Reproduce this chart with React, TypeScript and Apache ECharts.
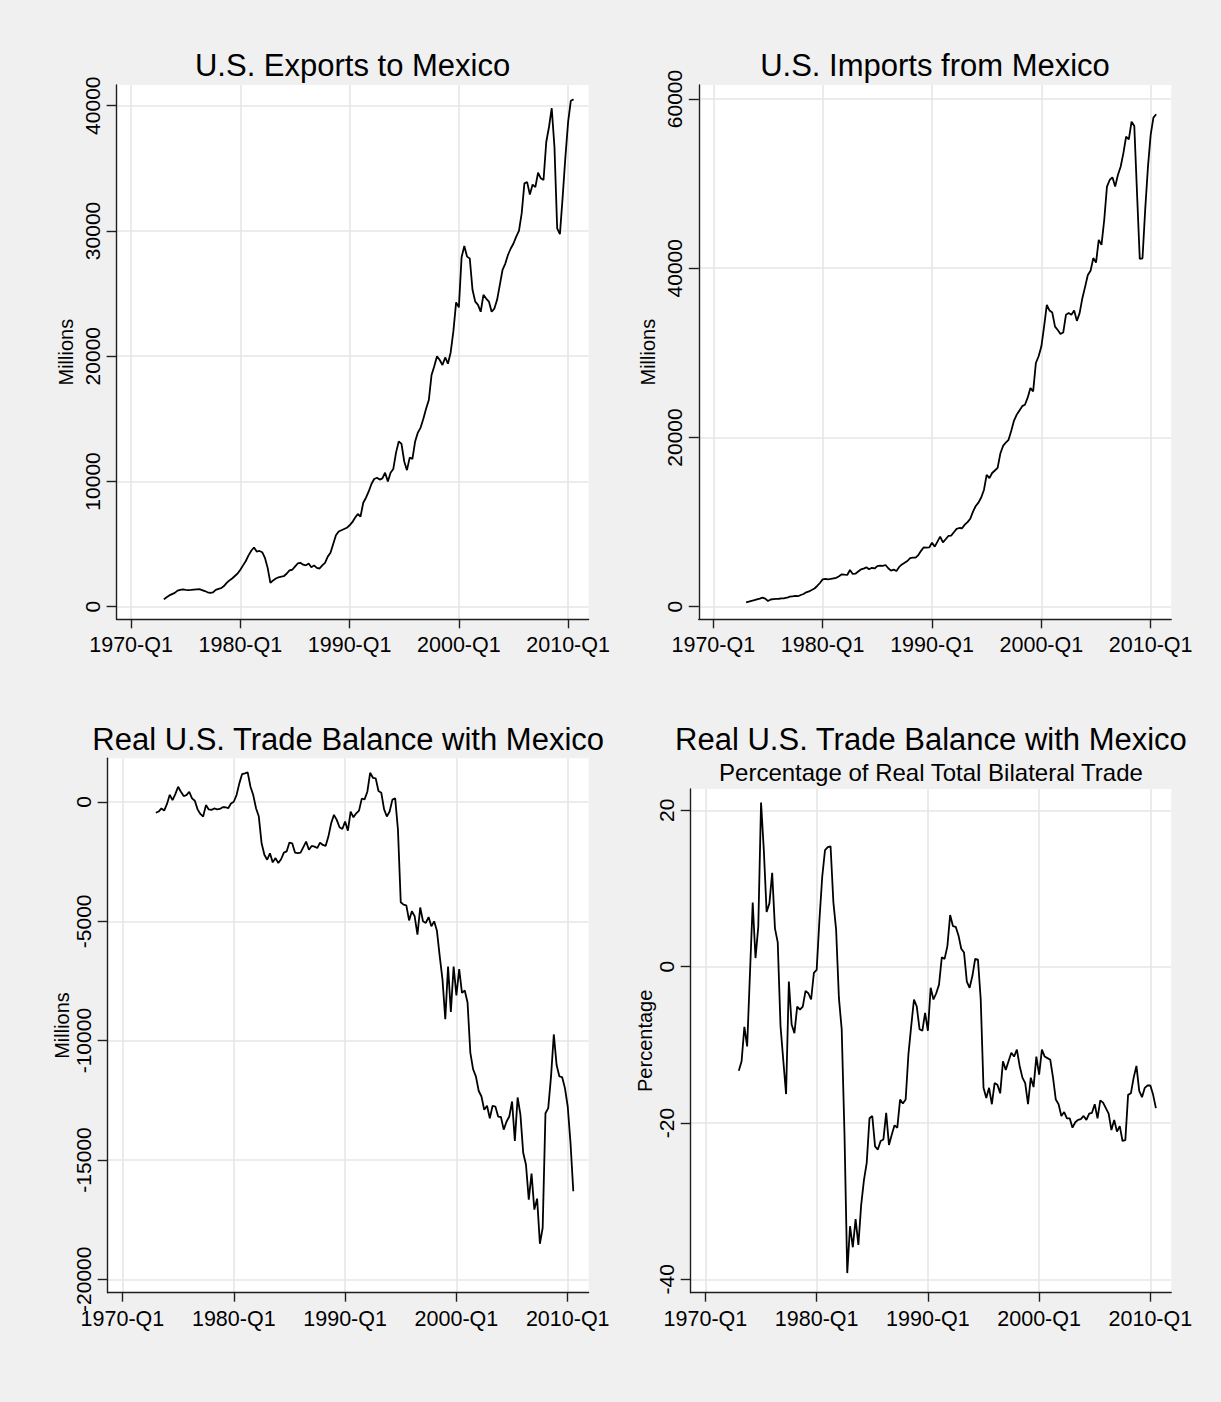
import React, { useEffect, useRef } from "react";
import * as echarts from "echarts";

// Quarterly data, 1973-Q1 .. 2010-Q3 (151 quarters). x = quarters since 1960-Q1.
const FIRST_Q = 52;

const EXPORTS = [
  585, 750, 900, 1000,
  1100, 1280, 1350, 1380,
  1350, 1330, 1340, 1360,
  1380, 1400, 1330, 1250,
  1150, 1100, 1150, 1350,
  1420, 1480, 1650, 1900,
  2100, 2250, 2450, 2650,
  2950, 3300, 3650, 4100,
  4470, 4730, 4400, 4450,
  4350, 3900, 3100, 1900,
  2100, 2250, 2350, 2400,
  2450, 2650, 2900, 2950,
  3200, 3450, 3500, 3350,
  3300, 3450, 3150, 3300,
  3100, 3050, 3300, 3500,
  4000, 4300, 5000, 5700,
  6000, 6100, 6200, 6300,
  6500, 6750, 7100, 7400,
  7200, 8300, 8700, 9200,
  9800, 10200, 10300, 10150,
  10250, 10700, 10000, 10700,
  11000, 12300, 13200, 13000,
  11600, 10900, 11900, 11800,
  13200, 13900, 14300, 15000,
  15800, 16500, 18500, 19200,
  20000, 19700, 19300, 19900,
  19400, 20300, 22000, 24300,
  23900, 27900, 28800, 27950,
  27800, 25300, 24360, 24100,
  23550, 24900, 24600, 24360,
  23550, 23800, 24500, 25700,
  26900, 27400, 28100, 28600,
  29000, 29550, 30000, 31400,
  33800, 33900, 32900, 33700,
  33500, 34650, 34200, 34070,
  37100, 38300, 39800, 36700,
  30200, 29750, 32700, 35900,
  38700, 40400, 40500,
];

const IMPORTS = [
  513, 600, 700, 780,
  870, 960, 1080, 950,
  680, 850, 900, 920,
  940, 980, 1000, 1060,
  1180, 1230, 1280, 1240,
  1380, 1500, 1700, 1800,
  1970, 2150, 2450, 2800,
  3230, 3300, 3230, 3280,
  3350, 3420, 3600, 3830,
  3780, 3750, 4340, 3870,
  3900, 4150, 4400, 4500,
  4650, 4420, 4600, 4520,
  4800, 4850, 4820, 4930,
  4540, 4260, 4380, 4220,
  4700, 5000, 5200, 5400,
  5750, 5800, 5800, 6100,
  6600, 7020, 6980, 7000,
  7570, 7100, 7690, 8280,
  7610, 7970, 8360, 8400,
  8800, 9190, 9300, 9270,
  9700, 10000, 10400, 11240,
  11900, 12300, 12900, 13800,
  15580, 15190, 15800, 16100,
  16400, 18100, 19000, 19400,
  19720, 20800, 22000, 22700,
  23200, 23700, 23870, 24700,
  25840, 25450, 28800, 29600,
  30750, 33100, 35670, 35000,
  34760, 33100, 32700, 32240,
  32400, 34500, 34700, 34500,
  35000, 33780, 34700, 36460,
  37800, 39200, 39700, 41200,
  40670, 43350, 42760, 45700,
  49650, 50430, 50750, 49650,
  51020, 52000, 53580, 55550,
  55240, 57320, 56810, 48860,
  41100, 41180, 47000, 52000,
  55800, 57800, 58200,
];

const BALANCE = [
  -450, -400, -270, -360,
  -80, 300, 80, 330,
  640, 430, 250, 290,
  430, 150, 50, -310,
  -500, -610, -130, -310,
  -330, -270, -310, -290,
  -220, -220, -260, -60,
  10, 290, 780, 1170,
  1200, 1240, 640, 290,
  -260, -610, -1730, -2210,
  -2420, -2150, -2530, -2350,
  -2560, -2400, -2120, -2070,
  -1700, -1730, -2120, -2140,
  -2120, -1890, -1660, -2000,
  -1840, -1870, -1930, -1700,
  -1800, -1840, -1450, -890,
  -540, -750, -1060, -1130,
  -820, -1200, -400, -640,
  -475, -360, 140, 110,
  430, 1225, 1015, 990,
  460, 390, -300, -610,
  -400, 100, 150, -1170,
  -4200, -4300, -4330, -4960,
  -4580, -4790, -5560, -4420,
  -5000, -5070, -4820, -5210,
  -5000, -5400, -6460, -7440,
  -9100, -6900, -8800, -6900,
  -8100, -7000, -8000, -7900,
  -8400, -10500, -11200, -11500,
  -12100, -12340, -12900, -12730,
  -13250, -12730, -12760, -13180,
  -13200, -13730, -13400, -13180,
  -12550, -14200, -12380, -13100,
  -14700, -15200, -16660, -15570,
  -17080, -16620, -18510, -17840,
  -13040, -12830, -11500, -9740,
  -11020, -11500, -11530, -11990,
  -12760, -14290, -16310,
];

const PERCENT = [
  -13.3, -12.1, -7.7, -10.2,
  -1.0, 8.2, 1.1, 5.1,
  21.0, 14.9, 7.0, 8.1,
  12.0, 4.9, 3.1, -7.6,
  -12.0, -16.3, -1.9, -7.4,
  -8.5, -5.1, -5.5, -5.1,
  -3.1, -3.4, -4.2, -0.8,
  -0.4, 6.0, 11.5, 14.9,
  15.3, 15.4, 8.3, 4.7,
  -4.0, -8.0, -21.3, -39.2,
  -33.2, -35.9, -32.3, -35.6,
  -30.5, -27.3, -25.1, -19.4,
  -19.1, -23.0, -23.4, -22.3,
  -22.1, -18.7, -22.8, -21.5,
  -20.3, -20.6, -17.0, -17.5,
  -17.0, -11.2, -7.6, -4.2,
  -5.1, -8.0, -8.2, -5.9,
  -8.2, -2.7, -4.2, -3.4,
  -2.3, 1.2, 1.0, 2.6,
  6.6, 5.2, 5.1, 4.0,
  2.3, 1.8, -1.9, -2.7,
  -1.2, 1.0, 0.9, -4.2,
  -15.5, -16.8, -15.5, -17.6,
  -14.9, -15.1, -16.2, -12.1,
  -13.2, -12.1, -11.0, -11.5,
  -10.6, -12.7, -14.2, -14.9,
  -17.6, -14.2, -15.4, -11.5,
  -13.8, -10.6, -11.5, -11.7,
  -11.9, -14.2, -17.0, -17.6,
  -19.1, -18.6, -19.4, -19.4,
  -20.6, -19.9, -19.6, -19.5,
  -19.1, -19.6, -18.8, -18.7,
  -17.6, -19.4, -17.1, -17.4,
  -18.1, -18.8, -20.9, -19.6,
  -21.1, -20.4, -22.3, -22.2,
  -16.4, -16.2, -14.2, -12.7,
  -15.9, -16.7, -15.5, -15.2,
  -15.2, -16.4, -18.1,
];

const X_TICKS = [40, 80, 120, 160, 200];
const X_TICK_LABELS = ["1970-Q1", "1980-Q1", "1990-Q1", "2000-Q1", "2010-Q1"];

const EXPORT_TICKS = [0, 10000, 20000, 30000, 40000];
const IMPORT_TICKS = [0, 20000, 40000, 60000];
const BALANCE_TICKS = [-20000, -15000, -10000, -5000, 0];
const PERCENT_TICKS = [-40, -20, 0, 20];

const TITLES = [
  "U.S. Exports to Mexico",
  "U.S. Imports from Mexico",
  "Real U.S. Trade Balance with Mexico",
  "Real U.S. Trade Balance with Mexico",
];
const SUBTITLE = "Percentage of Real Total Bilateral Trade";
const Y_NAMES = ["Millions", "Millions", "Millions", "Percentage"];

const FONT = "'Liberation Sans', Arial, Helvetica, sans-serif";
const AXIS_COLOR = "#1e1e1e";
const GRID_COLOR = "#e6e6e6";

const PANELS = [
  { left: 116.6, top: 85, width: 472, height: 534.3, yMin: -1006, yMax: 41653, ticks: EXPORT_TICKS, data: EXPORTS, nameGap: 40.6, titleY: 65.6 },
  { left: 698.8, top: 85, width: 472.4, height: 534.3, yMin: -1489, yMax: 61655, ticks: IMPORT_TICKS, data: IMPORTS, nameGap: 40.8, titleY: 65.6 },
  { left: 107.7, top: 758.3, width: 480.9, height: 534.4, yMin: -20562, yMax: 1831, ticks: BALANCE_TICKS, data: BALANCE, nameGap: 31.7, titleY: 739 },
  { left: 690.7, top: 789, width: 480.5, height: 503.7, yMin: -41.71, yMax: 22.73, ticks: PERCENT_TICKS, data: PERCENT, nameGap: 32, titleY: 739 },
];

export default function App() {
  const ref = useRef<HTMLDivElement>(null);

  useEffect(() => {
    if (!ref.current) return;
    const chart = echarts.init(ref.current, null, { renderer: "svg" });

    const grid = PANELS.map((p) => ({
      left: p.left,
      top: p.top,
      width: p.width,
      height: p.height,
      show: true,
      backgroundColor: "#ffffff",
      borderWidth: 0,
      containLabel: false,
    }));

    const xAxis = PANELS.map((p, i) => ({
      type: "value",
      gridIndex: i,
      min: 34.7,
      max: 207.5,
      axisLine: { show: true, onZero: false, lineStyle: { color: AXIS_COLOR, width: 1.4 } },
      axisTick: { show: true, length: 9, inside: false, customValues: X_TICKS, lineStyle: { color: AXIS_COLOR, width: 1.4 } },
      axisLabel: {
        show: true,
        customValues: X_TICKS,
        margin: 15,
        fontSize: 21.5,
        fontFamily: FONT,
        color: "#000",
        formatter: (v: number) => {
          const idx = X_TICKS.indexOf(Math.round(v));
          return idx >= 0 ? X_TICK_LABELS[idx] : "";
        },
      },
      splitLine: { show: true, lineStyle: { color: GRID_COLOR, width: 1.6 } },
    }));

    const yAxis = PANELS.map((p, i) => ({
      type: "value",
      gridIndex: i,
      min: p.yMin,
      max: p.yMax,
      name: Y_NAMES[i],
      nameLocation: "middle",
      nameRotate: 90,
      nameGap: p.nameGap,
      nameTextStyle: { fontSize: 20, fontFamily: FONT, color: "#000" },
      axisLine: { show: true, onZero: false, lineStyle: { color: AXIS_COLOR, width: 1.4 } },
      axisTick: { show: true, length: 10, inside: false, customValues: p.ticks, lineStyle: { color: AXIS_COLOR, width: 1.4 } },
      axisLabel: {
        show: true,
        customValues: p.ticks,
        rotate: 90,
        margin: 14,
        fontSize: 21,
        fontFamily: FONT,
        color: "#000",
        formatter: (v: number) => String(v),
      },
      splitLine: { show: true, lineStyle: { color: GRID_COLOR, width: 1.6 } },
    }));

    const series = PANELS.map((p, i) => ({
      type: "line",
      xAxisIndex: i,
      yAxisIndex: i,
      data: p.data.map((v, k) => [FIRST_Q + k, v]),
      showSymbol: false,
      symbol: "none",
      silent: true,
      lineStyle: { color: "#000", width: 1.8 },
      emphasis: { disabled: true },
    }));

    const graphic: any[] = PANELS.map((p, i) => ({
      type: "text",
      x: p.left + p.width / 2,
      y: p.titleY,
      silent: true,
      style: {
        text: TITLES[i],
        fontSize: 31,
        fontFamily: FONT,
        fill: "#000",
        align: "center",
        verticalAlign: "middle",
      },
    }));
    graphic.push({
      type: "text",
      x: PANELS[3].left + PANELS[3].width / 2,
      y: 772.7,
      silent: true,
      style: {
        text: SUBTITLE,
        fontSize: 24,
        fontFamily: FONT,
        fill: "#000",
        align: "center",
        verticalAlign: "middle",
      },
    });

    chart.setOption({
      animation: false,
      backgroundColor: "#f0f0f0",
      grid,
      xAxis,
      yAxis,
      series,
      graphic,
    } as any);

    return () => chart.dispose();
  }, []);

  return (
    <div
      ref={ref}
      style={{ position: "absolute", left: 0, top: 0, width: 1221, height: 1402 }}
    />
  );
}
